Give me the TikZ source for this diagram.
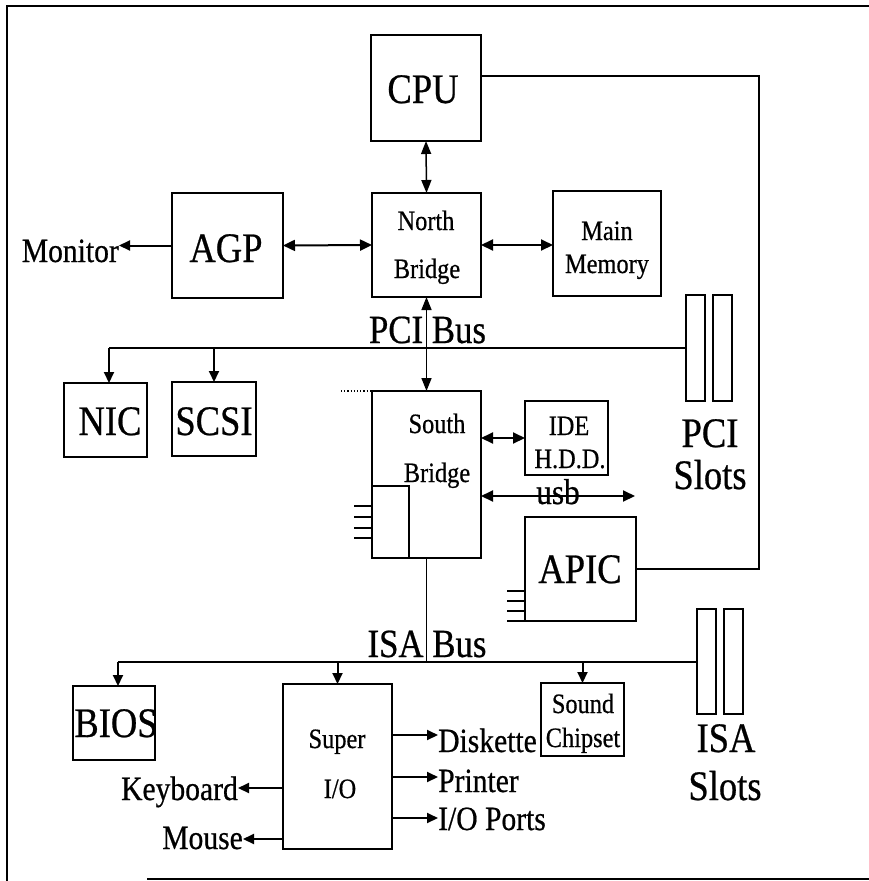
\documentclass[tikz,border=0pt]{standalone}
\usepackage{fontspec}
\setmainfont{Liberation Serif}[FakeStretch=0.87,FakeBold=0.6]
\usetikzlibrary{arrows.meta}
\begin{document}
\begin{tikzpicture}[x=1pt,y=-1pt,
  box/.style={draw, line width=2pt, inner sep=0pt, outer sep=0pt},
  slot/.style={draw, line width=1.8pt, inner sep=0pt, outer sep=0pt, minimum width=19pt, minimum height=106pt},
  lbl/.style={inner sep=0pt, anchor=base},
  big/.style={font=\fontsize{42}{42}\selectfont},
  bus/.style={font=\fontsize{40}{40}\selectfont},
  mid/.style={font=\fontsize{34}{34}\selectfont},
  sml/.style={font=\fontsize{28}{28}\selectfont},
  tip/.style={-{Triangle[length=11pt,width=10pt]}},
  dtip/.style={{Triangle[length=12pt,width=11pt]}-{Triangle[length=12pt,width=11pt]}},
  vtip/.style={line width=1.5pt,{Triangle[length=13pt,width=10pt]}-{Triangle[length=13pt,width=10pt]}},
  wire/.style={line width=2pt}]
\useasboundingbox (0,0) rectangle (869,881);
% frame
\draw[line width=2pt] (869,6) -- (7,6) -- (7,881);
\draw[line width=2pt] (147,879) -- (869,879);
% boxes
\node[box, minimum width=110pt, minimum height=106pt] (cpu) at (426,88) {};
\node[box, minimum width=109pt, minimum height=104pt] (nb) at (426.5,245) {};
\node[box, minimum width=111pt, minimum height=105pt] (agp) at (227.5,245.5) {};
\node[box, minimum width=108pt, minimum height=105pt] (mm) at (607,243.5) {};
\node[box, minimum width=83pt, minimum height=74pt] (nic) at (105.5,420) {};
\node[box, minimum width=84pt, minimum height=74pt] (scsi) at (214,419) {};
\node[box, minimum width=109pt, minimum height=167pt] (sb) at (426.5,474.5) {};
\node[box, minimum width=37pt, minimum height=72pt] (sbin) at (390.5,522) {};
\node[box, minimum width=83pt, minimum height=74pt] (ide) at (566.5,438) {};
\node[box, minimum width=111pt, minimum height=104pt] (apic) at (580.5,569) {};
\node[box, minimum width=82pt, minimum height=74pt] (bios) at (114,723) {};
\node[box, minimum width=109pt, minimum height=165pt] (sio) at (337.5,766.5) {};
\node[box, minimum width=83pt, minimum height=73pt] (snd) at (582.5,719.5) {};
\node[slot] (pcis1) at (695.5,348) {};
\node[slot] (pcis2) at (722.5,348) {};
\node[slot, minimum height=105pt] (isas1) at (706.5,661.5) {};
\node[slot, minimum height=105pt] (isas2) at (733.5,661.5) {};
% labels
\node[lbl,big] (tcpu) at (423,103) {CPU};
\node[lbl,big] (tagp) at (226,262) {AGP};
\node[lbl,mid,anchor=base east] (mon) at (119,262) {Monitor};
\node[lbl,sml] (tnb1) at (426,230) {North};
\node[lbl,sml] (tnb2) at (427,278) {Bridge};
\node[lbl,sml] (tmm1) at (607,240) {Main};
\node[lbl,sml] (tmm2) at (607,273) {Memory};
\node[lbl,bus] (tpci) at (427.5,343) {PCI Bus};
\node[lbl,big] (tnic) at (110,435) {NIC};
\node[lbl,big] (tscsi) at (214,435) {SCSI};
\node[lbl,big] (tps1) at (710,447) {PCI};
\node[lbl,big] (tps2) at (710,489) {Slots};
\node[lbl,sml] (tsb1) at (437,433) {South};
\node[lbl,sml] (tsb2) at (437,482) {Bridge};
\node[lbl,sml] (tide1) at (569,435) {IDE};
\node[lbl,sml] (tide2) at (570,468) {H.D.D.};
\node[lbl,font=\fontsize{36}{36}\selectfont] (tusb) at (558,504) {usb};
\node[lbl,big] (tapic) at (580,583) {APIC};
\node[lbl,bus] (tisa) at (427,657) {ISA Bus};
\node[lbl,big] (tbios) at (116,737) {BIOS};
\node[lbl,sml] (tsio1) at (337,748) {Super};
\node[lbl,sml] (tsio2) at (340,798) {I/O};
\node[lbl,sml] (tsnd1) at (583,713) {Sound};
\node[lbl,sml] (tsnd2) at (583,747) {Chipset};
\node[lbl,big] (tis1) at (726,752) {ISA};
\node[lbl,big] (tis2) at (725,800) {Slots};
\node[lbl,mid,anchor=base west] (disk) at (438,752) {Diskette};
\node[lbl,mid,anchor=base west] (prn) at (438,792) {Printer};
\node[lbl,mid,anchor=base west] (iop) at (438,830) {I/O Ports};
\node[lbl,mid,anchor=base east] (kbd) at (238,800) {Keyboard};
\node[lbl,mid,anchor=base east] (mouse) at (243,849) {Mouse};
% north side connectors
\draw[vtip] (cpu.south) -- (nb.north);
\draw[wire,dtip] (agp.east) -- (nb.west);
\draw[wire,dtip] (nb.east) -- (mm.west |- nb.east);
\draw[wire,tip] (agp.west) -- (agp.west -| mon.east);
\coordinate (cr) at (759,76);
\draw[wire] (cpu.east |- cr) -- (cr) |- (apic.east);
% PCI bus
\draw[vtip] (nb.south) -- (sb.north);
\coordinate (pciL) at (109,348);
\draw[line width=2.5pt] (pcis1.west |- pciL) -- (pciL);
\draw[wire,tip] (pciL) -- (pciL |- nic.north);
\draw[wire,tip] (scsi.north |- pciL) -- (scsi.north);
% south bridge
\draw[line width=1.2pt, dotted] (341,391) -- (sb.north west);
\draw[wire,dtip] (sb.east |- ide.west) -- (ide.west);
\coordinate (usbR) at (635,496);
\draw[wire,dtip] (sb.east |- usbR) -- (usbR);
\foreach \yy in {506,517,528,538} \draw[wire] (354,\yy) -- (sbin.west |- 0,\yy);
\foreach \yy in {591,601,611,621} \draw[wire] (507,\yy) -- (apic.west |- 0,\yy);
% ISA bus
\coordinate (isaL) at (118,662);
\draw[line width=1.5pt] (sb.south) -- (sb.south |- isaL);
\draw[line width=2.8pt] (isas1.west |- isaL) -- (isaL);
\draw[wire,tip] (isaL) -- (isaL |- bios.north);
\draw[wire,tip] (sio.north |- isaL) -- (sio.north);
\draw[wire,tip] (snd.north |- isaL) -- (snd.north);
% super I/O outputs
\draw[wire,tip] (sio.east |- 0,735) -- (disk.west |- 0,735);
\draw[wire,tip] (sio.east |- 0,777) -- (prn.west |- 0,777);
\draw[wire,tip] (sio.east |- 0,818) -- (iop.west |- 0,818);
\draw[wire,tip] (sio.west |- 0,788) -- (kbd.east |- 0,788);
\draw[wire,tip] (sio.west |- 0,839) -- (mouse.east |- 0,839);
\end{tikzpicture}
\end{document}
